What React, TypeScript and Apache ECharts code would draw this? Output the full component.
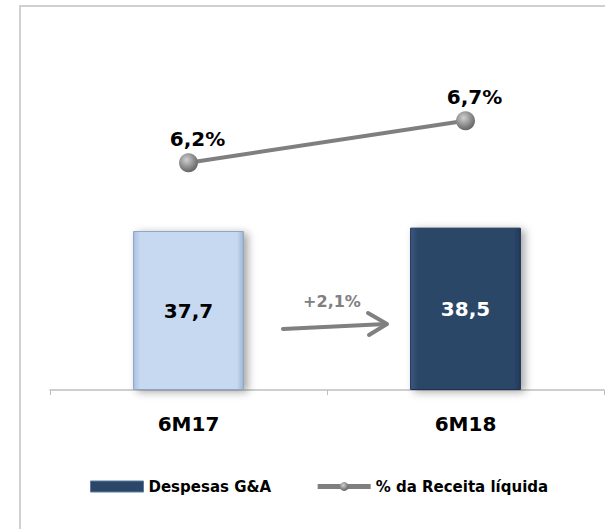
import React, { useEffect, useRef } from "react";
import * as echarts from "echarts";

const categories = ["6M17", "6M18"];
const despesas = [37.7, 38.5];
const percReceita = [6.2, 6.7];
const growthLabel = "+2,1%";

const FONT = "'DejaVu Sans', sans-serif";

export default function App() {
  const ref = useRef<HTMLDivElement>(null);
  useEffect(() => {
    document.body.style.margin = "0";
    const chart = echarts.init(ref.current!, null, { renderer: "svg" });
    const fmt = (v: number) => v.toFixed(1).replace(".", ",");
    const barColors = [
      {
        fill: new echarts.graphic.LinearGradient(0, 0, 1, 0, [
          { offset: 0, color: "#a9c0de" },
          { offset: 0.06, color: "#c6d9f1" },
          { offset: 0.94, color: "#c6d9f1" },
          { offset: 1, color: "#9fb6d3" },
        ]),
        border: "#8ea6c4",
      },
      {
        fill: new echarts.graphic.LinearGradient(0, 0, 1, 0, [
          { offset: 0, color: "#3d5a80" },
          { offset: 0.06, color: "#2c4668" },
          { offset: 0.94, color: "#2c4668" },
          { offset: 1, color: "#22395a" },
        ]),
        border: "#1e3352",
      },
    ];
    chart.setOption({
      animation: false,
      backgroundColor: "#ffffff",
      textStyle: { fontFamily: FONT },
      grid: { left: 50, right: 1, top: 40, bottom: 139, containLabel: false },
      xAxis: {
        type: "category",
        data: categories,
        axisLine: { show: true, lineStyle: { color: "#bfbfbf", width: 1.5 } },
        axisTick: { show: true, length: 5, lineStyle: { color: "#bfbfbf" } },
        axisLabel: {
          margin: 24,
          color: "#000000",
          fontSize: 20,
          fontWeight: "bold",
          fontFamily: FONT,
        },
      },
      yAxis: [
        { type: "value", min: 0, max: 83, show: false, splitLine: { show: false } },
        { type: "value", min: 3.494, max: 7.661, show: false, splitLine: { show: false } },
      ],
      legend: {
        left: 85,
        top: 474,
        itemWidth: 53,
        itemHeight: 11,
        itemGap: 44,
        textStyle: { fontSize: 15, fontWeight: "bold", color: "#000", fontFamily: FONT },
        data: [
          {
            name: "Despesas G&A",
            icon: "rect",
            itemStyle: { color: "#2c4668", borderColor: "#5a7ba5", borderWidth: 1 },
          },
          {
            name: "% da Receita líquida",
            lineStyle: { width: 5, color: "#7f7f7f" },
          },
        ],
      },
      series: [
        {
          name: "Despesas G&A",
          type: "bar",
          yAxisIndex: 0,
          barWidth: "40%",
          data: despesas.map((v, i) => ({
            value: v,
            itemStyle: {
              color: barColors[i].fill,
              borderColor: barColors[i].border,
              borderWidth: 1,
              shadowColor: "rgba(0,0,0,0.35)",
              shadowBlur: 8,
              shadowOffsetX: 4,
              shadowOffsetY: 2,
            },
            label: { color: i === 0 ? "#000000" : "#ffffff" },
          })),
          itemStyle: { color: "#2c4668" },
          label: {
            show: true,
            position: "inside",
            fontSize: 20,
            fontWeight: "bold",
            fontFamily: FONT,
            formatter: (p: any) => fmt(p.value),
          },
        },
        {
          name: "% da Receita líquida",
          type: "line",
          yAxisIndex: 1,
          data: percReceita,
          symbol: "circle",
          symbolSize: 19,
          lineStyle: { color: "#7f7f7f", width: 4 },
          itemStyle: {
            color: new echarts.graphic.RadialGradient(0.4, 0.35, 0.7, [
              { offset: 0, color: "#d0d0d0" },
              { offset: 0.6, color: "#8a8a8a" },
              { offset: 1, color: "#5e5e5e" },
            ]),
            borderWidth: 0,
          },
          label: {
            show: true,
            position: "top",
            offset: [9, 0],
            distance: 4,
            color: "#000000",
            fontSize: 20,
            fontWeight: "bold",
            fontFamily: FONT,
            formatter: (p: any) => fmt(p.value) + "%",
          },
        },
      ],
      graphic: [
        {
          type: "rect",
          silent: true,
          z: -10,
          shape: { x: 20, y: 6, width: 700, height: 700 },
          style: { fill: "none", stroke: "#d0d0d0", lineWidth: 2 },
        },
        {
          type: "text",
          x: 332,
          y: 301,
          style: {
            text: growthLabel,
            fill: "#808080",
            font: `bold 16px ${FONT}`,
            textAlign: "center",
            textVerticalAlign: "middle",
          },
        },
        {
          type: "line",
          shape: { x1: 283, y1: 329, x2: 386, y2: 324 },
          style: { stroke: "#808080", lineWidth: 4, lineCap: "round" },
        },
        {
          type: "polyline",
          shape: { points: [[368, 313], [387, 324], [369, 335]] },
          style: { stroke: "#808080", lineWidth: 4, fill: "none", lineCap: "round", lineJoin: "round" },
        },
      ],
    });
    return () => chart.dispose();
  }, []);
  return (
    <div
      ref={ref}
      style={{ width: 605, height: 529, position: "absolute", left: 0, top: 0 }}
    />
  );
}
